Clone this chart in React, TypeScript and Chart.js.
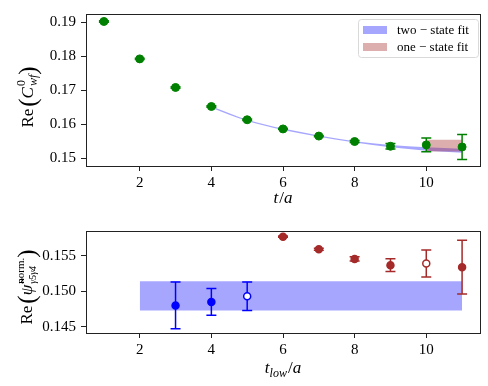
import React, { useEffect, useRef } from "react";
import { Chart, registerables } from "chart.js";
Chart.register(...registerables);

// ---------- data ----------
const tTop = [1, 2, 3, 4, 5, 6, 7, 8, 9, 10, 11];
const cwfValues = [0.1903, 0.1793, 0.1709, 0.1653, 0.1614, 0.1587, 0.1566, 0.155, 0.1536, 0.154, 0.1534];
const cwfErrors = [0.0002, 0.0002, 0.0002, 0.0002, 0.0002, 0.0002, 0.0002, 0.0003, 0.0008, 0.002, 0.0037];

const twoStateT = [4, 5, 6, 7, 8, 9, 10, 11];
const twoStateUpper = [0.1654, 0.1614, 0.1588, 0.1568, 0.1551, 0.154, 0.1533, 0.1529];
const twoStateLower = [0.1649, 0.161, 0.1584, 0.1564, 0.1547, 0.1533, 0.1523, 0.1517];

const oneStateT = [10, 11];
const oneStateUpper = [0.1555, 0.1555];
const oneStateLower = [0.1521, 0.1521];

const legendLabels = ["two \u2212 state fit", "one \u2212 state fit"];

const tLowBlue = [3, 4, 5];
const psiBlue = [0.148, 0.1485, 0.1493];
const psiBlueErr = [0.0033, 0.0019, 0.002];
const blueOpen = [false, false, true];

const tLowRed = [6, 7, 8, 9, 10, 11];
const psiRed = [0.15772, 0.15594, 0.15458, 0.15369, 0.15392, 0.15341];
const psiRedErr = [0.0001, 0.00015, 0.0003, 0.0009, 0.0019, 0.0038];
const redOpen = [false, false, false, false, true, false];

const bandT = [2, 11];
const bandUpper = [0.15141, 0.15141];
const bandLower = [0.14728, 0.14728];

// ---------- styles ----------
const SERIF = "'Liberation Serif', 'DejaVu Serif', serif";
const GREEN = "#008000";
const BLUE = "#0000ff";
const RED = "#a52a2a";
const BLUE_BAND = "rgba(0,0,255,0.35)";
const RED_BAND = "rgba(165,42,42,0.38)";

type Piece = { t: string; f: string; dy?: number; gap?: number };
type Seg = Piece | { sup: Piece; sub: Piece };

function pieceW(ctx: CanvasRenderingContext2D, p: Piece) {
  ctx.font = p.f;
  return ctx.measureText(p.t).width + (p.gap || 0);
}
function segW(ctx: CanvasRenderingContext2D, s: Seg) {
  if ("sup" in s) return Math.max(pieceW(ctx, s.sup), pieceW(ctx, s.sub));
  return pieceW(ctx, s);
}
function drawRich(ctx: CanvasRenderingContext2D, segs: Seg[], cx: number, cy: number, rot: boolean, base: number) {
  ctx.save();
  ctx.translate(cx, cy);
  if (rot) ctx.rotate(-Math.PI / 2);
  ctx.textAlign = "left";
  ctx.textBaseline = "alphabetic";
  ctx.fillStyle = "#000";
  const ws = segs.map((s) => segW(ctx, s));
  const total = ws.reduce((a, b) => a + b, 0);
  let x = -total / 2;
  segs.forEach((s, i) => {
    if ("sup" in s) {
      ctx.font = s.sup.f;
      ctx.fillText(s.sup.t, x, base + (s.sup.dy || 0));
      ctx.font = s.sub.f;
      ctx.fillText(s.sub.t, x, base + (s.sub.dy || 0));
    } else {
      ctx.font = s.f;
      ctx.fillText(s.t, x, base + (s.dy || 0));
    }
    x += ws[i];
  });
  ctx.restore();
}

const M = `17px ${SERIF}`;
const MI = `italic 17px ${SERIF}`;
const S = `12px ${SERIF}`;
const SI = `italic 12px ${SERIF}`;
const P = `25px ${SERIF}`;

const topYTitle: Seg[] = [
  { t: "Re", f: M, gap: 2 },
  { t: "(", f: P, dy: 3 },
  { t: "C", f: MI, gap: 1 },
  { sup: { t: "0", f: S, dy: -8 }, sub: { t: "wf", f: SI, dy: 4 } },
  { t: ")", f: P, dy: 3 },
];
const botYTitle: Seg[] = [
  { t: "Re", f: M, gap: 2 },
  { t: "(", f: P, dy: 3 },
  { t: "\u03C8\u0303", f: MI, gap: 1 },
  { sup: { t: "norm.", f: `11px ${SERIF}`, dy: -8 }, sub: { t: "\u03B35\u03B34", f: `italic 10px ${SERIF}`, dy: 4 } },
  { t: ")", f: P, dy: 3 },
];
const topXTitle: Seg[] = [
  { t: "t", f: MI, gap: 1 },
  { t: "/", f: M },
  { t: "a", f: MI },
];
const botXTitle: Seg[] = [
  { t: "t", f: MI },
  { t: "low", f: SI, dy: 4, gap: 1 },
  { t: "/", f: M },
  { t: "a", f: MI },
];

const errorBarPlugin = {
  id: "errbars",
  beforeDatasetDraw(chart: any, args: any) {
    const ds: any = chart.data.datasets[args.index];
    if (!ds.errors) return;
    const meta = chart.getDatasetMeta(args.index);
    const ys = chart.scales.y;
    const ctx = chart.ctx as CanvasRenderingContext2D;
    ctx.save();
    ctx.strokeStyle = ds.errorColor;
    ctx.lineWidth = 1.5;
    meta.data.forEach((el: any, i: number) => {
      const p = ds.data[i];
      const x = el.x;
      const y1 = ys.getPixelForValue(p.y + ds.errors[i]);
      const y2 = ys.getPixelForValue(p.y - ds.errors[i]);
      ctx.beginPath();
      ctx.moveTo(x, y1);
      ctx.lineTo(x, y2);
      ctx.moveTo(x - 5, y1);
      ctx.lineTo(x + 5, y1);
      ctx.moveTo(x - 5, y2);
      ctx.lineTo(x + 5, y2);
      ctx.stroke();
    });
    ctx.restore();
  },
};

const boxPlugin = {
  id: "box",
  afterDraw(chart: any) {
    const { left, right, top, bottom } = chart.chartArea;
    const ctx = chart.ctx as CanvasRenderingContext2D;
    ctx.save();
    ctx.strokeStyle = "#222";
    ctx.lineWidth = 1;
    ctx.strokeRect(Math.round(left) + 0.5, Math.round(top) + 0.5, Math.round(right - left), Math.round(bottom - top));
    ctx.restore();
  },
};

const titlesPlugin = {
  id: "titles",
  afterDraw(chart: any, _a: any, opts: any) {
    const ctx = chart.ctx as CanvasRenderingContext2D;
    const ca = chart.chartArea;
    const cxX = (ca.left + ca.right) / 2;
    drawRich(ctx, opts.x, cxX, opts.xBase, false, 0);
    drawRich(ctx, opts.y, opts.yCx, opts.yCy, true, opts.yBase);
  },
};

const legendPlugin = {
  id: "fitLegend",
  afterDraw(chart: any, _a: any, opts: any) {
    if (!opts || !opts.items) return;
    const ctx = chart.ctx as CanvasRenderingContext2D;
    const ca = chart.chartArea;
    const bx = ca.right - 122, by = ca.top + 5, bw = 120, bh = 38;
    ctx.save();
    ctx.fillStyle = "rgba(255,255,255,0.8)";
    ctx.strokeStyle = "#d9d9d9";
    ctx.lineWidth = 1;
    ctx.beginPath();
    (ctx as any).roundRect(bx + 0.5, by + 0.5, bw, bh, 3);
    ctx.fill();
    ctx.stroke();
    ctx.font = `13px ${SERIF}`;
    ctx.textBaseline = "middle";
    ctx.textAlign = "left";
    opts.items.forEach((it: any, i: number) => {
      const cy = by + 11 + i * 17;
      ctx.fillStyle = it.color;
      ctx.fillRect(bx + 5, cy - 4, 24, 8);
      ctx.fillStyle = "#000";
      ctx.fillText(it.label, bx + 39, cy + 0.5);
    });
    ctx.restore();
  },
};

function scales(xMin: number, xMax: number, yMin: number, yMax: number, yStep: number, yDigits: number, xHeight: number) {
  const tickFont = { family: SERIF, size: 15 };
  const grid = { drawOnChartArea: false, drawTicks: true, tickLength: 5, tickColor: "#222", tickWidth: 1 };
  return {
    x: {
      type: "linear" as const,
      min: xMin,
      max: xMax,
      afterFit: (s: any) => {
        s.height = xHeight;
      },
      ticks: { stepSize: 2, includeBounds: false, color: "#000", font: tickFont, padding: 3, maxRotation: 0 },
      grid,
      border: { display: false },
    },
    y: {
      type: "linear" as const,
      min: yMin,
      max: yMax,
      afterFit: (s: any) => {
        s.width = 86;
      },
      ticks: {
        stepSize: yStep,
        includeBounds: false,
        color: "#000",
        font: tickFont,
        padding: 5,
        callback: (v: any) => Number(v).toFixed(yDigits),
      },
      grid,
      border: { display: false },
    },
  };
}

function pts(xs: number[], ys: number[]) {
  return xs.map((x, i) => ({ x, y: ys[i] }));
}

function TopChart() {
  const ref = useRef<HTMLCanvasElement>(null);
  useEffect(() => {
    const chart = new Chart(ref.current!, {
      type: "scatter",
      data: {
        datasets: [
          {
            label: "C",
            data: pts(tTop, cwfValues),
            errors: cwfErrors,
            errorColor: GREEN,
            pointRadius: 4,
            pointBackgroundColor: GREEN,
            pointBorderColor: GREEN,
            pointBorderWidth: 1,
            showLine: false,
            order: 0,
          } as any,
          {
            label: legendLabels[0],
            data: pts(twoStateT, twoStateUpper),
            showLine: true,
            fill: "+1",
            backgroundColor: BLUE_BAND,
            borderWidth: 0,
            borderColor: "rgba(0,0,0,0)",
            pointRadius: 0,
            cubicInterpolationMode: "monotone",
            order: 2,
          },
          {
            label: "lower2",
            data: pts(twoStateT, twoStateLower),
            showLine: true,
            fill: false,
            borderWidth: 0,
            borderColor: "rgba(0,0,0,0)",
            pointRadius: 0,
            cubicInterpolationMode: "monotone",
            order: 3,
          },
          {
            label: legendLabels[1],
            data: pts(oneStateT, oneStateUpper),
            showLine: true,
            fill: "+1",
            backgroundColor: RED_BAND,
            borderWidth: 0,
            borderColor: "rgba(0,0,0,0)",
            pointRadius: 0,
            order: 1,
          },
          {
            label: "lower1",
            data: pts(oneStateT, oneStateLower),
            showLine: true,
            fill: false,
            borderWidth: 0,
            borderColor: "rgba(0,0,0,0)",
            pointRadius: 0,
            order: 4,
          },
        ],
      },
      options: {
        animation: false,
        responsive: false,
        events: [],
        layout: { padding: { left: 0, right: 8, top: 8, bottom: 0 } },
        scales: scales(0.5, 11.5, 0.1478, 0.1925, 0.01, 2, 49),
        plugins: {
          legend: { display: false },
          tooltip: { enabled: false },
          titles: { x: topXTitle, xBase: 203, y: topYTitle, yCx: 28, yCy: 97, yBase: 5 },
          fitLegend: {
            items: [
              { label: legendLabels[0], color: BLUE_BAND },
              { label: legendLabels[1], color: RED_BAND },
            ],
          },
        } as any,
      },
      plugins: [errorBarPlugin, boxPlugin, titlesPlugin, legendPlugin],
    });
    return () => chart.destroy();
  }, []);
  return <canvas ref={ref} width={488} height={215} style={{ position: "absolute", left: 0, top: 0 }} />;
}

function BottomChart() {
  const ref = useRef<HTMLCanvasElement>(null);
  useEffect(() => {
    const chart = new Chart(ref.current!, {
      type: "scatter",
      data: {
        datasets: [
          {
            label: "blue",
            data: pts(tLowBlue, psiBlue),
            errors: psiBlueErr,
            errorColor: BLUE,
            pointRadius: 3.5,
            pointBackgroundColor: blueOpen.map((o) => (o ? "#fff" : BLUE)),
            pointBorderColor: BLUE,
            pointBorderWidth: 1.5,
            showLine: false,
            order: 0,
          } as any,
          {
            label: "red",
            data: pts(tLowRed, psiRed),
            errors: psiRedErr,
            errorColor: RED,
            pointRadius: 3.5,
            pointBackgroundColor: redOpen.map((o) => (o ? "#fff" : RED)),
            pointBorderColor: RED,
            pointBorderWidth: 1.5,
            showLine: false,
            order: 0,
          } as any,
          {
            label: "band",
            data: pts(bandT, bandUpper),
            showLine: true,
            fill: "+1",
            backgroundColor: BLUE_BAND,
            borderWidth: 0,
            borderColor: "rgba(0,0,0,0)",
            pointRadius: 0,
            order: 2,
          },
          {
            label: "bandLower",
            data: pts(bandT, bandLower),
            showLine: true,
            fill: false,
            borderWidth: 0,
            borderColor: "rgba(0,0,0,0)",
            pointRadius: 0,
            order: 3,
          },
        ],
      },
      options: {
        animation: false,
        responsive: false,
        events: [],
        layout: { padding: { left: 0, right: 8, top: 16, bottom: 0 } },
        scales: scales(0.5, 11.5, 0.14411, 0.15852, 0.005, 3, 53),
        plugins: {
          legend: { display: false },
          tooltip: { enabled: false },
          titles: { x: botXTitle, xBase: 158, y: botYTitle, yCx: 27, yCy: 72, yBase: 5 },
        } as any,
      },
      plugins: [errorBarPlugin, boxPlugin, titlesPlugin],
    });
    return () => chart.destroy();
  }, []);
  return <canvas ref={ref} width={488} height={171} style={{ position: "absolute", left: 0, top: 215 }} />;
}

export default function App() {
  return (
    <div style={{ position: "absolute", left: 0, top: 0, width: 488, height: 386, background: "#fff" }}>
      <TopChart />
      <BottomChart />
    </div>
  );
}
